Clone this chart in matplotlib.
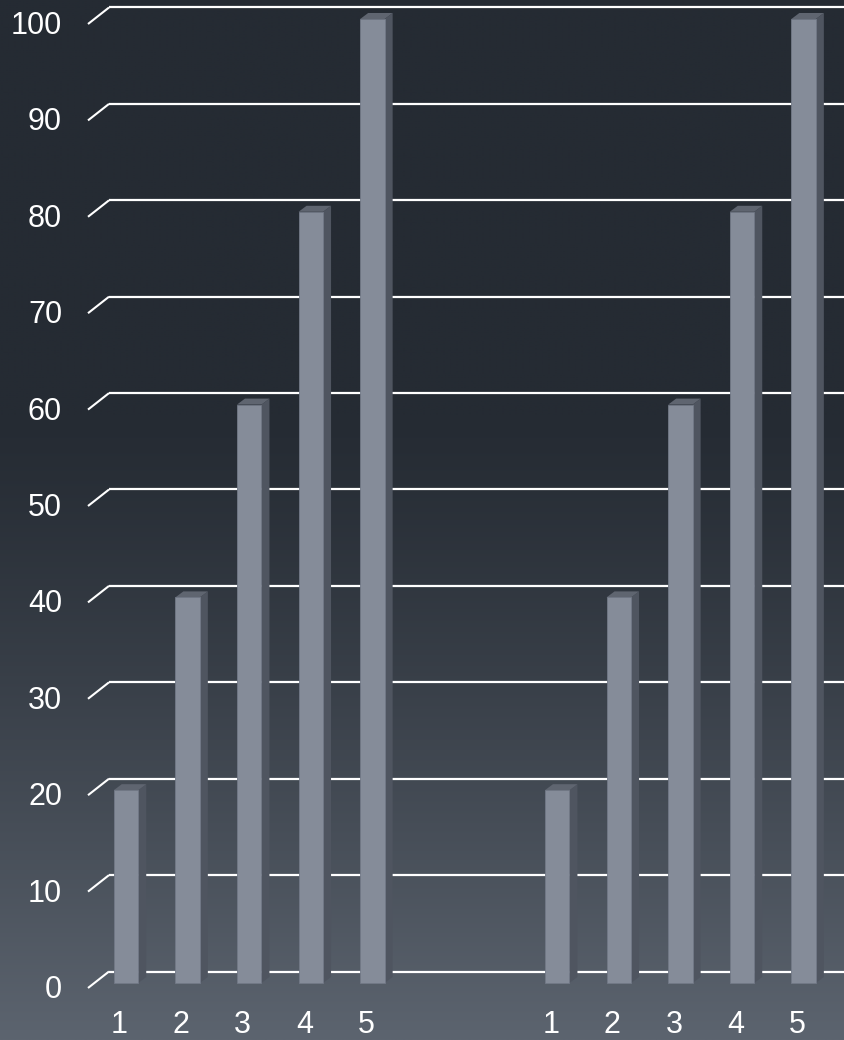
import numpy as np
import matplotlib
matplotlib.use("Agg")
import matplotlib.pyplot as plt
from matplotlib.patches import Polygon

# Data
categories = ["1", "2", "3", "4", "5"]
group_a = [20, 40, 60, 80, 100]
group_b = [20, 40, 60, 80, 100]
y_ticks = [0, 10, 20, 30, 40, 50, 60, 70, 80, 90, 100]

plt.rcParams["font.family"] = ["Liberation Sans", "DejaVu Sans"]

W, H, DPI = 844, 1040, 100
fig = plt.figure(figsize=(W / DPI, H / DPI), dpi=DPI)
ax = fig.add_axes([0, 0, 1, 1])

# Pixel layout of the plotting area
X0_PX, STEP_PX = 126.0, 61.6      # centre of first bar and spacing
Y0_PX, UNIT_PX = 983.0, 9.64      # baseline and pixels per value unit
ax.set_xlim(-X0_PX / STEP_PX, (W - X0_PX) / STEP_PX)
ax.set_ylim(-(H - Y0_PX) / UNIT_PX, Y0_PX / UNIT_PX)
ax.axis("off")


def px_x(px):
    return (px - X0_PX) / STEP_PX


def dx(px):
    return px / STEP_PX


def dy(px):  # pixels upward -> value units
    return px / UNIT_PX


# Background gradient: dark at top, lighter towards the bottom
top = np.array([37, 43, 51]) / 255
bot = np.array([92, 100, 111]) / 255
t = np.linspace(0, 1, 512)
w = np.clip((t - 0.40) / 0.60, 0, 1) ** 1.2
grad = top[None, :] * (1 - w[:, None]) + bot[None, :] * w[:, None]
grad = np.repeat(grad[:, None, :], 2, axis=1)
ax.imshow(grad, extent=[0, 1, 0, 1], transform=ax.transAxes,
          aspect="auto", zorder=0, interpolation="bilinear")

# Gridlines on the back wall with diagonal floor ticks
x_front, x_back = px_x(88), px_x(109)
xmax = ax.get_xlim()[1]
for v in y_ticks:
    yb = v + dy(11.5)
    ax.plot([x_front, x_back], [v - dy(5), yb], color="white", lw=1.5,
            solid_capstyle="butt", zorder=2)
    ax.plot([x_back, xmax], [yb, yb], color="white", lw=1.6,
            solid_capstyle="butt", zorder=2)
    ax.text(px_x(62), v - dy(15), str(v), color="white", fontsize=22,
            ha="right", va="baseline", zorder=5)

# 3-D style bars
bar_w = dx(24.5)
depth_x, depth_y = dx(8), dy(6)
face_c, side_c, top_c = "#858c99", "#4f5560", "#5f6570"

positions = list(range(len(categories))) + [i + len(categories) + 2 for i in range(len(categories))]
values = group_a + group_b
labels = categories + categories

ax.bar(positions, values, width=bar_w, color=face_c, edgecolor="#727987",
       linewidth=0.6, zorder=4)
for x, v in zip(positions, values):
    l, r = x - bar_w / 2, x + bar_w / 2
    side = [(r, 0), (r + depth_x, depth_y), (r + depth_x, v + depth_y), (r, v)]
    topf = [(l, v), (r, v), (r + depth_x, v + depth_y), (l + depth_x, v + depth_y)]
    ax.add_patch(Polygon(side, closed=True, facecolor=side_c, edgecolor="none", zorder=3.5))
    ax.add_patch(Polygon(topf, closed=True, facecolor=top_c, edgecolor="none", zorder=3.5))

# Category labels under the bars
label_y = -(1033 - Y0_PX) / UNIT_PX
for x, lab in zip(positions, labels):
    ax.text(x - dx(6.5), label_y, lab, color="white", fontsize=22,
            ha="center", va="baseline", zorder=5)

fig.savefig("out.png", dpi=DPI)
